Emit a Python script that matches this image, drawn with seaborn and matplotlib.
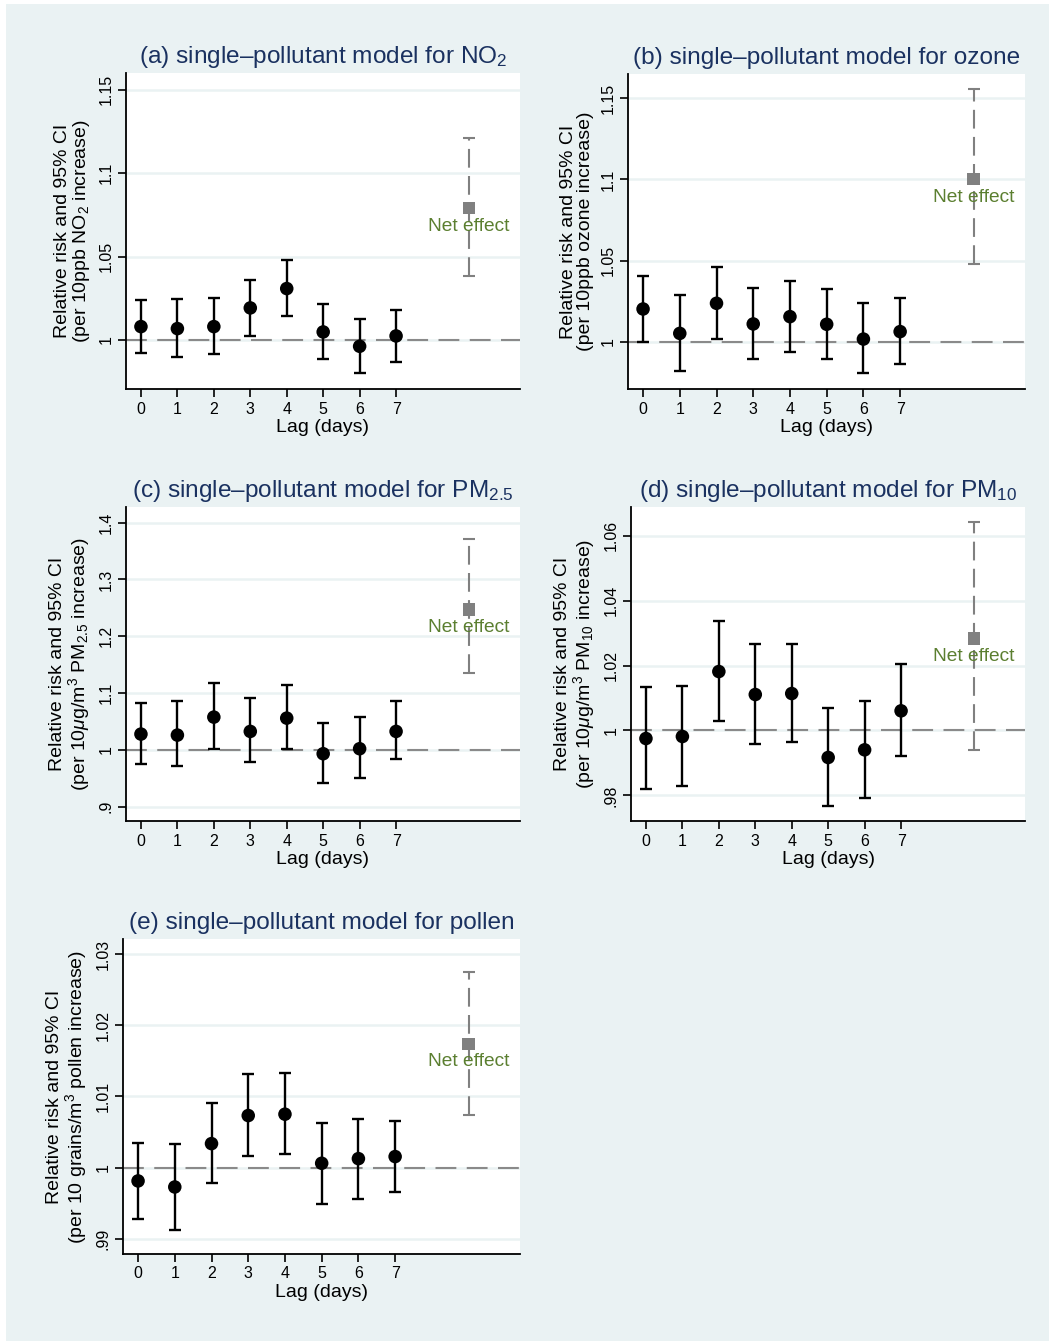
import matplotlib
matplotlib.use("Agg")
import matplotlib.pyplot as plt
import seaborn as sns
from matplotlib.patches import Rectangle

lags = [0, 1, 2, 3, 4, 5, 6, 7]
net_pos = 9

# (a) NO2
rr_no2 = [1.0080, 1.0068, 1.0080, 1.0192, 1.0308, 1.0048, 0.9962, 1.0024]
lo_no2 = [0.9924, 0.9898, 0.9916, 1.0024, 1.0142, 0.9884, 0.9800, 0.9870]
hi_no2 = [1.0238, 1.0246, 1.0250, 1.0362, 1.0480, 1.0214, 1.0128, 1.0180]
net_no2 = [1.0790, 1.0386, 1.1210]

# (b) ozone
rr_o3 = [1.0203, 1.0053, 1.0238, 1.0111, 1.0156, 1.0109, 1.0018, 1.0064]
lo_o3 = [1.0000, 0.9824, 1.0018, 0.9897, 0.9938, 0.9897, 0.9807, 0.9867]
hi_o3 = [1.0406, 1.0289, 1.0462, 1.0334, 1.0378, 1.0328, 1.0238, 1.0269]
net_o3 = [1.1001, 1.0478, 1.1555]

# (c) PM2.5
rr_pm25 = [1.0276, 1.0258, 1.0575, 1.0323, 1.0557, 0.9930, 1.0018, 1.0323]
lo_pm25 = [0.9754, 0.9713, 1.0018, 0.9777, 1.0006, 0.9408, 0.9496, 0.9836]
hi_pm25 = [1.0815, 1.0856, 1.1179, 1.0909, 1.1144, 1.0475, 1.0575, 1.0850]
net_pm25 = [1.2469, 1.1349, 1.3713]

# (d) PM10
rr_pm10 = [0.99753, 0.99815, 1.01818, 1.01109, 1.01140, 0.99168, 0.99404, 1.00606]
lo_pm10 = [0.98200, 0.98285, 1.00288, 0.99589, 0.99640, 0.97660, 0.97925, 0.99209]
hi_pm10 = [1.01335, 1.01376, 1.03369, 1.02660, 1.02660, 1.00688, 1.00914, 1.02044]
net_pm10 = [1.02835, 0.99394, 1.06419]

# (e) pollen
rr_pol = [0.99813, 0.99728, 1.00337, 1.00731, 1.00750, 1.00061, 1.00126, 1.00155]
lo_pol = [0.99283, 0.99119, 0.99789, 1.00169, 1.00187, 0.99494, 0.99560, 0.99653]
hi_pol = [1.00342, 1.00333, 1.00904, 1.01312, 1.01326, 1.00628, 1.00689, 1.00656]
net_pol = [1.01738, 1.00735, 1.02749]

titles = [
    "(a) single\u2013pollutant model for NO$_2$",
    "(b) single\u2013pollutant model for ozone",
    "(c) single\u2013pollutant model for PM$_{2.5}$",
    "(d) single\u2013pollutant model for PM$_{10}$",
    "(e) single\u2013pollutant model for pollen",
]
units = [
    "(per 10ppb NO$_2$ increase)",
    "(per 10ppb ozone increase)",
    "(per 10$\\mu$g/m$^3$ PM$_{2.5}$ increase)",
    "(per 10$\\mu$g/m$^3$ PM$_{10}$ increase)",
    "(per 10 grains/m$^3$ pollen increase)",
]
yticks = [
    [1.0, 1.05, 1.1, 1.15],
    [1.0, 1.05, 1.1, 1.15],
    [0.9, 1.0, 1.1, 1.2, 1.3, 1.4],
    [0.98, 1.0, 1.02, 1.04, 1.06],
    [0.99, 1.0, 1.01, 1.02, 1.03],
]
ytick_labels = [
    ["1", "1.05", "1.1", "1.15"],
    ["1", "1.05", "1.1", "1.15"],
    [".9", "1", "1.1", "1.2", "1.3", "1.4"],
    [".98", "1", "1.02", "1.04", "1.06"],
    [".99", "1", "1.01", "1.02", "1.03"],
]
ylims = [
    (0.9706, 1.160),
    (0.9711, 1.1648),
    (0.8745, 1.4276),
    (0.9721, 1.0689),
    (0.98787, 1.0321),
]

series = [
    (rr_no2, lo_no2, hi_no2, net_no2),
    (rr_o3, lo_o3, hi_o3, net_o3),
    (rr_pm25, lo_pm25, hi_pm25, net_pm25),
    (rr_pm10, lo_pm10, hi_pm10, net_pm10),
    (rr_pol, lo_pol, hi_pol, net_pol),
]

sns.set_theme(style="white")
plt.rcParams["font.family"] = ["Liberation Sans", "DejaVu Sans"]
plt.rcParams["mathtext.fontset"] = "custom"
plt.rcParams["mathtext.rm"] = "Liberation Sans"
plt.rcParams["mathtext.it"] = "Liberation Sans:italic"
plt.rcParams["mathtext.bf"] = "Liberation Sans:bold"

bg = "#EAF2F3"
navy = "#1A3160"
grey = "#808080"
green = "#5B7F30"

W, H = 1051, 1344
fig = plt.figure(figsize=(W / 100, H / 100), dpi=100, facecolor="white")
fig.patches.append(Rectangle((6 / W, 3 / H), (1049 - 6) / W, (1341 - 4) / H,
                             transform=fig.transFigure, facecolor=bg,
                             edgecolor="none", zorder=-5))

# axes boxes in pixels: left, top, right, bottom
boxes = [
    (126, 73, 520, 389),
    (628, 74, 1025, 389),
    (126, 507, 520, 821),
    (631, 507, 1025, 821),
    (123, 939, 520, 1254),
]

for i, (l, t, r, b) in enumerate(boxes):
    ax = fig.add_axes([l / W, 1 - b / H, (r - l) / W, (b - t) / H])
    rr, lo, hi, net = series[i]
    ax.set_facecolor("white")

    ax.axhline(1.0, color="#8a8a8a", lw=1.5, ls=(0, (10, 5)), zorder=2)

    yerr = [[rr[k] - lo[k] for k in range(len(rr))],
            [hi[k] - rr[k] for k in range(len(rr))]]
    ax.errorbar(lags, rr, yerr=yerr, fmt="none", ecolor="black",
                elinewidth=1.7, capsize=4.6, capthick=1.7, zorder=3)
    sns.scatterplot(x=lags, y=rr, ax=ax, color="black", s=95,
                    edgecolor="none", zorder=4, legend=False)

    neterr = [[net[0] - net[1]], [net[2] - net[0]]]
    eb = ax.errorbar([net_pos], [net[0]], yerr=neterr, fmt="none",
                     ecolor=grey, elinewidth=1.5, capsize=4.3, capthick=1.5,
                     zorder=3)
    eb[2][0].set_linestyle((0, (9, 4)))
    sns.scatterplot(x=[net_pos], y=[net[0]], ax=ax, color=grey, marker="s",
                    s=80, edgecolor="none", zorder=4, legend=False)
    ax.annotate("Net effect", xy=(net_pos, net[0]), xytext=(0, -13),
                textcoords="offset points", ha="center", va="center",
                color=green, fontsize=13.8, zorder=5)

    ax.set_xlim(-0.41, 10.4)
    ax.set_ylim(*ylims[i])
    ax.set_xticks(lags)
    ax.set_xticklabels([str(v) for v in lags], fontsize=11.5)
    ax.set_yticks(yticks[i])
    ax.set_yticklabels(ytick_labels[i], fontsize=11.5, rotation=90,
                       va="center")
    ax.yaxis.grid(True, color=bg, lw=1.8, zorder=0)
    ax.xaxis.grid(False)
    ax.set_axisbelow(True)
    ax.tick_params(axis="both", direction="out", length=6, width=1.2,
                   color="black", labelcolor="black", pad=3)
    ax.tick_params(axis="x", bottom=True)
    ax.tick_params(axis="y", left=True)
    for s in ["top", "right"]:
        ax.spines[s].set_visible(False)
    for s in ["left", "bottom"]:
        ax.spines[s].set_color("black")
        ax.spines[s].set_linewidth(1.3)

    ax.set_title(titles[i], fontsize=17.6, color=navy, pad=7)
    ax.set_xlabel("Lag (days)", fontsize=14, color="black", labelpad=2)
    ax.set_ylabel("Relative risk and 95% CI\n" + units[i], fontsize=14,
                  color="black", linespacing=1.0, labelpad=5)

fig.savefig("out.png", dpi=100, facecolor="white")
